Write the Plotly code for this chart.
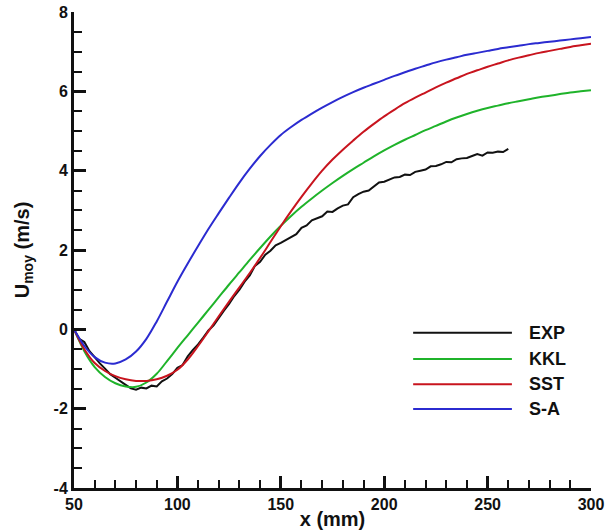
import plotly.graph_objects as go

# ---------------- data ----------------
exp_x = [50, 52.5, 55, 57.5, 60, 62.5, 65, 67.5, 70, 72.5, 75, 77.5, 80, 82.5, 85, 87.5,
         90, 92.5, 95, 97.5, 100, 102.5, 105, 107.5, 110, 112.5, 115, 117.5, 120, 122.5,
         125, 127.5, 130, 132.5, 135, 137.5, 140, 142.5, 145, 147.5, 150, 152.5, 155, 157.5,
         160, 162.5, 165, 167.5, 170, 172.5, 175, 177.5, 180, 182.5, 185, 187.5, 190, 192.5,
         195, 197.5, 200, 202.5, 205, 207.5, 210, 212.5, 215, 217.5, 220, 222.5, 225, 227.5,
         230, 232.5, 235, 237.5, 240, 242.5, 245, 247.5, 250, 252.5, 255, 257.5, 260]
exp_y = [0.00, -0.24, -0.32, -0.55, -0.70, -0.86, -0.99, -1.13, -1.22, -1.32, -1.40, -1.49,
         -1.52, -1.47, -1.49, -1.42, -1.44, -1.31, -1.24, -1.13, -0.97, -0.90, -0.68, -0.52,
         -0.38, -0.21, -0.03, 0.10, 0.30, 0.47, 0.64, 0.84, 1.00, 1.20, 1.36, 1.60, 1.70,
         1.88, 1.98, 2.12, 2.18, 2.25, 2.33, 2.40, 2.56, 2.62, 2.75, 2.80, 2.85, 2.97, 2.96,
         3.05, 3.12, 3.15, 3.33, 3.41, 3.47, 3.50, 3.60, 3.70, 3.72, 3.78, 3.83, 3.84, 3.90,
         3.89, 3.97, 4.00, 4.03, 4.11, 4.12, 4.16, 4.22, 4.21, 4.29, 4.31, 4.32, 4.37, 4.42,
         4.38, 4.46, 4.45, 4.48, 4.47, 4.55]

model_x = [50, 55, 60, 65, 70, 75, 80, 85, 90, 95, 100, 105, 110, 115, 120, 125, 130, 135,
           140, 145, 150, 155, 160, 165, 170, 175, 180, 185, 190, 195, 200, 205, 210, 215,
           220, 225, 230, 235, 240, 245, 250, 255, 260, 265, 270, 275, 280, 285, 290, 295, 300]

kkl_y = [0.0, -0.55, -0.95, -1.2, -1.36, -1.44, -1.45, -1.34, -1.12, -0.8, -0.47, -0.15,
         0.17, 0.49, 0.81, 1.13, 1.44, 1.75, 2.05, 2.34, 2.61, 2.86, 3.09, 3.3, 3.5, 3.69,
         3.87, 4.04, 4.2, 4.36, 4.51, 4.65, 4.78, 4.9, 5.02, 5.13, 5.24, 5.34, 5.43, 5.51,
         5.58, 5.64, 5.7, 5.75, 5.8, 5.85, 5.89, 5.93, 5.97, 6.0, 6.03]

sst_y = [0.0, -0.5, -0.85, -1.05, -1.18, -1.26, -1.3, -1.3, -1.26, -1.17, -1.02, -0.76,
         -0.42, -0.05, 0.33, 0.7, 1.06, 1.42, 1.8, 2.2, 2.6, 2.98, 3.34, 3.68, 4.0, 4.28,
         4.53, 4.76, 4.98, 5.18, 5.37, 5.54, 5.7, 5.84, 5.97, 6.1, 6.22, 6.33, 6.44, 6.53,
         6.62, 6.7, 6.78, 6.85, 6.91, 6.97, 7.02, 7.07, 7.12, 7.16, 7.2]

sa_y = [0.0, -0.42, -0.7, -0.84, -0.86, -0.76, -0.56, -0.24, 0.2, 0.7, 1.2, 1.66, 2.1,
        2.53, 2.93, 3.32, 3.7, 4.05, 4.37, 4.65, 4.9, 5.1, 5.28, 5.44, 5.59, 5.73, 5.86,
        5.98, 6.09, 6.19, 6.29, 6.39, 6.48, 6.57, 6.65, 6.73, 6.8, 6.86, 6.92, 6.97, 7.02,
        7.07, 7.11, 7.15, 7.19, 7.22, 7.25, 7.28, 7.31, 7.34, 7.37]

series_names = ["EXP", "KKL", "SST", "S-A"]
series_colors = ["#111111", "#1fb32a", "#c8141e", "#2b2bd0"]

x_ticks = [50, 100, 150, 200, 250, 300]
y_ticks = [-4, -2, 0, 2, 4, 6, 8]

# ---------------- figure ----------------
FONT = "Liberation Sans"
fig = go.Figure()

fig.add_trace(go.Scatter(x=exp_x, y=exp_y, mode="lines", name=series_names[0],
                         line=dict(color=series_colors[0], width=2)))
for name, col, ys in zip(series_names[1:], series_colors[1:], [kkl_y, sst_y, sa_y]):
    fig.add_trace(go.Scatter(x=model_x, y=ys, mode="lines", name=name,
                             line=dict(color=col, width=2, shape="spline", smoothing=1)))

# manual legend (long line samples as in the reference)
leg_y = [0.326, 0.271, 0.218, 0.166]
for name, col, yy in zip(series_names, series_colors, leg_y):
    fig.add_shape(type="line", xref="paper", yref="paper", x0=0.656, x1=0.847, y0=yy, y1=yy,
                  line=dict(color=col, width=2))
    fig.add_annotation(xref="paper", yref="paper", x=0.876, y=yy, text=name, showarrow=False,
                       xanchor="left", yanchor="middle",
                       font=dict(family=FONT, size=18, color="#111111", weight="bold"))

axis_common = dict(
    showline=True, linecolor="#111111", linewidth=3, mirror=False,
    ticks="inside", ticklen=12, tickwidth=2.5, tickcolor="#111111",
    showgrid=False, zeroline=False, automargin=False,
    tickfont=dict(family=FONT, size=16, color="#111111", weight="bold"),
)

fig.update_xaxes(range=[50, 300], tickvals=x_ticks, ticktext=[str(v) for v in x_ticks],
                 minor=dict(ticks="inside", ticklen=8, tickwidth=1.5, tickcolor="#111111",
                            dtick=10, tick0=50, showgrid=False),
                 title=dict(text="x (mm)", standoff=0,
                            font=dict(family=FONT, size=20, color="#111111", weight="bold")),
                 **axis_common)
fig.update_yaxes(range=[-4, 8], tickvals=y_ticks, ticktext=[str(v) for v in y_ticks],
                 minor=dict(ticks="inside", ticklen=8, tickwidth=1.5, tickcolor="#111111",
                            dtick=0.5, tick0=0, showgrid=False),
                 title=dict(text="U<sub>moy</sub> (m/s)", standoff=19,
                            font=dict(family=FONT, size=20, color="#111111", weight="bold")),
                 **axis_common)

fig.update_layout(
    width=607, height=531,
    margin=dict(l=74, r=16, t=12, b=43),
    paper_bgcolor="white", plot_bgcolor="white",
    showlegend=False,
)

# remove the browser's default 8px page margin so the figure fills the window exactly
fig.write_html("out.html", config={"displayModeBar": False},
               post_script="document.body.style.margin='0';")
